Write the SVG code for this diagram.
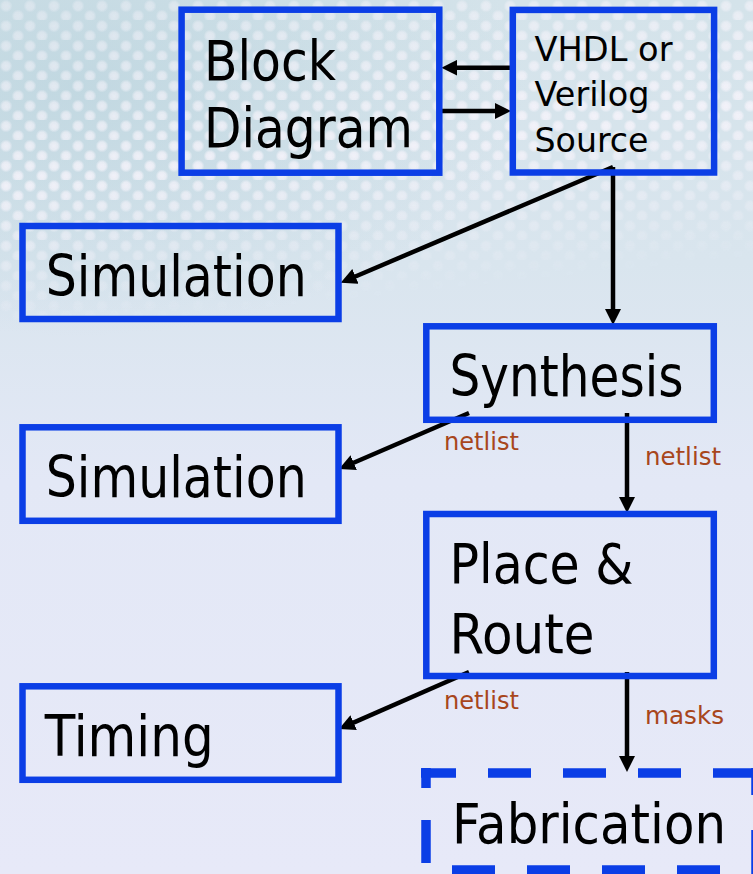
<svg xmlns="http://www.w3.org/2000/svg" width="753" height="874" viewBox="0 0 753 874">
  <style>
    .box { fill: none; stroke: #0b3ee6; stroke-width: 6.5; }
    .dash { fill: none; stroke: #0b3ee6; stroke-width: 9.5; }
    .t { font-family: "DejaVu Sans", "Liberation Sans", sans-serif; fill: #000000; }
    .lbl { font-family: "DejaVu Sans", "Liberation Sans", sans-serif; font-size: 24px; fill: #a8461c; }
    .edge { stroke: #000000; stroke-width: 4.5; fill: none; marker-end: url(#ah); }
  </style>
  <defs>
    <marker id="ah" markerUnits="userSpaceOnUse" markerWidth="16" markerHeight="16" refX="2" refY="8" orient="auto" viewBox="0 0 16 16">
      <path d="M0,0 L16,8 L0,16 z" fill="#000000"/>
    </marker>
    <linearGradient id="bg" x1="0" y1="0" x2="0" y2="1">
      <stop offset="0" stop-color="#d4e3ea"/>
      <stop offset="0.3" stop-color="#d9e5ee"/>
      <stop offset="0.55" stop-color="#e3e8f6"/>
      <stop offset="1" stop-color="#e7e9f8"/>
    </linearGradient>
    <radialGradient id="tint" cx="0.1" cy="0.2" r="0.6">
      <stop offset="0" stop-color="#b9d3dd" stop-opacity="0.7"/>
      <stop offset="1" stop-color="#b9d3dd" stop-opacity="0"/>
    </radialGradient>
    <radialGradient id="dotg">
      <stop offset="0" stop-color="#fbf6fd" stop-opacity="1"/>
      <stop offset="0.6" stop-color="#fbf6fd" stop-opacity="0.8"/>
      <stop offset="1" stop-color="#fbf6fd" stop-opacity="0"/>
    </radialGradient>
    <pattern id="dots" width="24" height="20" patternUnits="userSpaceOnUse">
      <circle cx="6" cy="6" r="6.5" fill="url(#dotg)"/>
      <circle cx="18" cy="16" r="6.5" fill="url(#dotg)"/>
    </pattern>
    <linearGradient id="fade" x1="0" y1="0" x2="0.25" y2="1">
      <stop offset="0" stop-color="#fff" stop-opacity="0.45"/>
      <stop offset="0.55" stop-color="#fff" stop-opacity="0.95"/>
      <stop offset="1" stop-color="#fff" stop-opacity="0"/>
    </linearGradient>
    <mask id="band">
      <rect x="0" y="0" width="753" height="320" fill="url(#fade)"/>
    </mask>
  </defs>

  <g id="background">
    <rect x="0" y="0" width="753" height="874" fill="url(#bg)"/>
    <rect x="0" y="0" width="753" height="420" fill="url(#tint)"/>
    <rect x="0" y="0" width="753" height="320" fill="url(#dots)" mask="url(#band)" opacity="0.85"/>
  </g>

  <g id="connectors">
    <line class="edge" x1="512" y1="67.7" x2="455.4" y2="67.7"/>
    <line class="edge" x1="441" y1="111" x2="497" y2="111"/>
    <line class="edge" x1="613" y1="167" x2="353.6" y2="277.2"/>
    <line class="edge" x1="613" y1="167" x2="613" y2="311"/>
    <line class="edge" x1="469" y1="413" x2="351.9" y2="463.5"/>
    <line class="edge" x1="627" y1="413" x2="627" y2="499"/>
    <line class="edge" x1="469" y1="672" x2="351.8" y2="723.4"/>
    <line class="edge" x1="627" y1="672" x2="627" y2="758"/>
    <text class="lbl" x="444" y="450" textLength="75" lengthAdjust="spacingAndGlyphs">netlist</text>
    <text class="lbl" x="645" y="465" textLength="76" lengthAdjust="spacingAndGlyphs">netlist</text>
    <text class="lbl" x="444" y="709" textLength="75" lengthAdjust="spacingAndGlyphs">netlist</text>
    <text class="lbl" x="645" y="724" textLength="79" lengthAdjust="spacingAndGlyphs">masks</text>
  </g>

  <g id="block-diagram">
    <rect class="box" x="181.6" y="9.7" width="257.7" height="163"/>
    <text class="t" font-size="55" x="204" y="80" textLength="132" lengthAdjust="spacingAndGlyphs">Block</text>
    <text class="t" font-size="55" x="204" y="147" textLength="209" lengthAdjust="spacingAndGlyphs">Diagram</text>
  </g>

  <g id="hdl-source">
    <rect class="box" x="512.8" y="9.9" width="201.3" height="162.6"/>
    <text class="t" font-size="33" x="534.5" y="61" textLength="138" lengthAdjust="spacingAndGlyphs">VHDL or</text>
    <text class="t" font-size="33" x="534.5" y="106" textLength="115" lengthAdjust="spacingAndGlyphs">Verilog</text>
    <text class="t" font-size="33" x="534.5" y="152" textLength="114" lengthAdjust="spacingAndGlyphs">Source</text>
  </g>

  <g id="simulation-1">
    <rect class="box" x="22.5" y="226" width="316" height="93"/>
    <text class="t" font-size="57" x="45.7" y="296" textLength="261" lengthAdjust="spacingAndGlyphs">Simulation</text>
  </g>

  <g id="synthesis">
    <rect class="box" x="426.3" y="326.3" width="287.5" height="93.5"/>
    <text class="t" font-size="57" x="449.5" y="396" textLength="234" lengthAdjust="spacingAndGlyphs">Synthesis</text>
  </g>

  <g id="simulation-2">
    <rect class="box" x="22.5" y="427.3" width="316" height="93.5"/>
    <text class="t" font-size="57" x="45.7" y="497" textLength="261" lengthAdjust="spacingAndGlyphs">Simulation</text>
  </g>

  <g id="place-route">
    <rect class="box" x="426.3" y="514" width="287.5" height="162"/>
    <text class="t" font-size="56" x="449.5" y="582.7" textLength="184" lengthAdjust="spacingAndGlyphs">Place &amp;</text>
    <text class="t" font-size="56" x="449.5" y="652.7" textLength="145" lengthAdjust="spacingAndGlyphs">Route</text>
  </g>

  <g id="timing">
    <rect class="box" x="22.5" y="686.3" width="316" height="93.5"/>
    <text class="t" font-size="57" x="44.7" y="756" textLength="169" lengthAdjust="spacingAndGlyphs">Timing</text>
  </g>

  <g id="fabrication">
    <path class="dash" d="M421,773 H770" stroke-dasharray="43 32" stroke-dashoffset="8"/>
    <path class="dash" d="M426,768 V880" stroke-dasharray="43 32" stroke-dashoffset="23"/>
    <path class="dash" d="M421,870 H770" stroke-dasharray="43 32" stroke-dashoffset="44"/>
    <path class="dash" d="M756,768 V880" stroke-dasharray="27 35 44 40"/>
    <text class="t" font-size="56" x="452" y="843" textLength="274" lengthAdjust="spacingAndGlyphs">Fabrication</text>
  </g>
</svg>
